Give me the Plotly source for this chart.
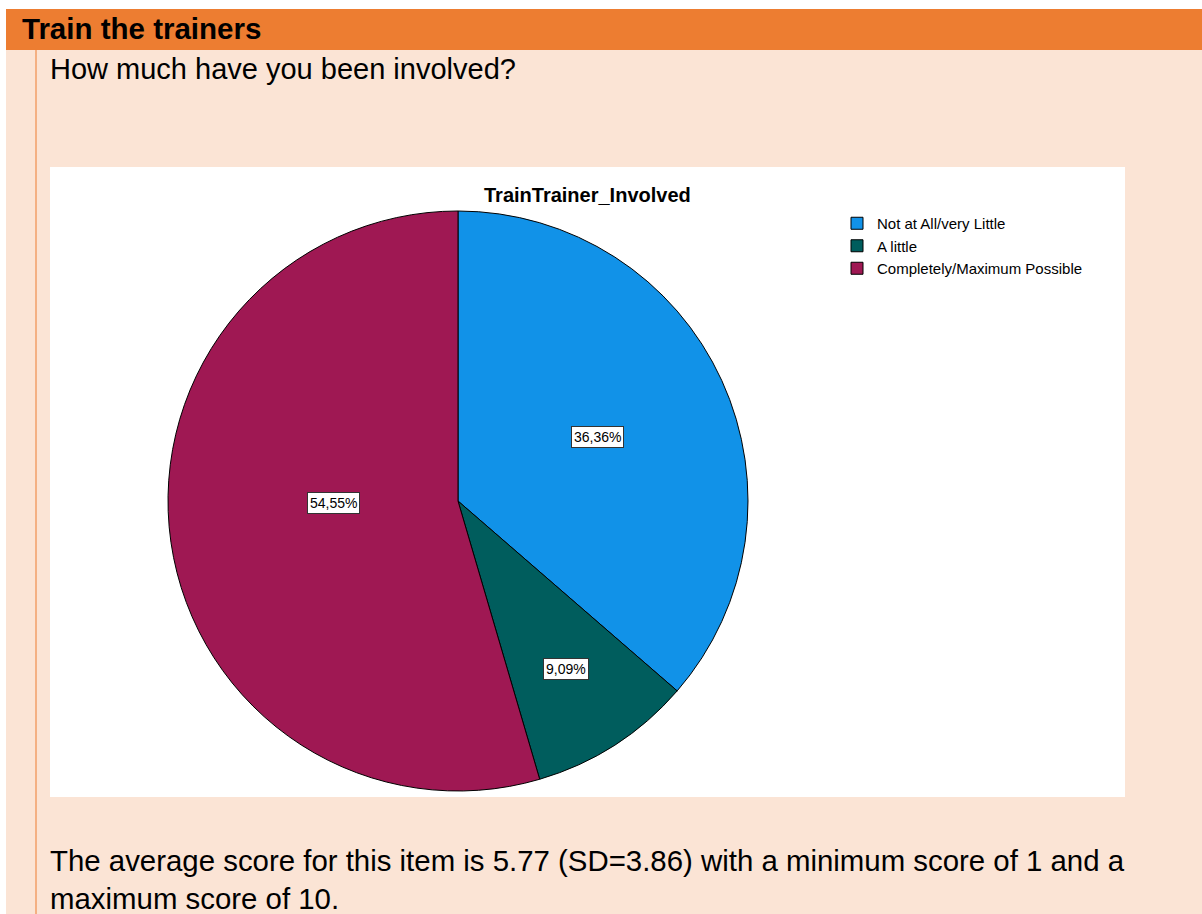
import plotly.graph_objects as go
import math

# ---------------- data ----------------
categories = ["Not at All/very Little", "A little", "Completely/Maximum Possible"]
counts = [4, 1, 6]
slice_colors = ["#1192E8", "#005D5D", "#9F1853"]

header_text = "Train the trainers"
question_text = "How much have you been involved?"
chart_title = "TrainTrainer_Involved"
footer_line1 = "The average score for this item is 5.77 (SD=3.86) with a minimum score of 1 and a"
footer_line2 = "maximum score of 10."

# ---------------- geometry (pixels) ----------------
W, H = 1202, 914
PIE_CX, PIE_CY, PIE_R = 458, 501, 290
label_radius = [0.53, 0.69, 0.43]
label_angle_shift = [0.0, 0.0, 7.3]

def px(x):
    return x / W

def py(y):
    return 1 - y / H

PEACH = "#FBE4D5"
ORANGE = "#ED7D31"
LINE_ORANGE = "#F4B083"
FONT = "Liberation Sans, Arial, sans-serif"

fig = go.Figure()

fig.add_trace(go.Pie(
    labels=categories,
    values=counts,
    sort=False,
    direction="clockwise",
    rotation=0,
    marker=dict(colors=slice_colors, line=dict(color="#000000", width=1)),
    textinfo="none",
    hoverinfo="label+percent",
    domain=dict(x=[px(PIE_CX - PIE_R), px(PIE_CX + PIE_R)],
                y=[py(PIE_CY + PIE_R), py(PIE_CY - PIE_R)]),
    showlegend=True,
))

# percentage labels computed from the data
total = sum(counts)
cum = 0
annotations = []
for i, v in enumerate(counts):
    frac = v / total
    mid = (cum + frac / 2) * 360 + label_angle_shift[i]
    cum += frac
    d = label_radius[i] * PIE_R
    lx = PIE_CX + math.sin(math.radians(mid)) * d
    ly = PIE_CY - math.cos(math.radians(mid)) * d
    txt = f"{frac * 100:.2f}".replace(".", ",") + "%"
    annotations.append(dict(
        x=px(lx), y=py(ly), xref="paper", yref="paper",
        text=txt, showarrow=False, xanchor="center", yanchor="middle",
        font=dict(family=FONT, size=14, color="#000000"),
        bgcolor="#FFFFFF", bordercolor="#333333", borderwidth=1, borderpad=2,
    ))

annotations += [
    dict(x=px(20), y=py(29), xref="paper", yref="paper", text=f"<b>{header_text}</b>",
         showarrow=False, xanchor="left", yanchor="middle",
         font=dict(family=FONT, size=29.5, color="#000000")),
    dict(x=px(48), y=py(69), xref="paper", yref="paper", text=question_text,
         showarrow=False, xanchor="left", yanchor="middle",
         font=dict(family=FONT, size=29, color="#000000")),
    dict(x=px(587.5), y=py(195), xref="paper", yref="paper", text=f"<b>{chart_title}</b>",
         showarrow=False, xanchor="center", yanchor="middle",
         font=dict(family=FONT, size=20, color="#000000")),
    dict(x=px(48), y=py(860), xref="paper", yref="paper", text=footer_line1,
         showarrow=False, xanchor="left", yanchor="middle",
         font=dict(family=FONT, size=29.4, color="#000000")),
    dict(x=px(48), y=py(898), xref="paper", yref="paper", text=footer_line2,
         showarrow=False, xanchor="left", yanchor="middle",
         font=dict(family=FONT, size=29.4, color="#000000")),
]

shapes = [
    # white margins at top and left
    dict(type="rect", xref="paper", yref="paper", x0=0, x1=1, y0=py(9), y1=1,
         fillcolor="#FFFFFF", line=dict(width=0), layer="below"),
    dict(type="rect", xref="paper", yref="paper", x0=0, x1=px(6), y0=0, y1=1,
         fillcolor="#FFFFFF", line=dict(width=0), layer="below"),
    # orange header bar
    dict(type="rect", xref="paper", yref="paper", x0=px(6), x1=1, y0=py(50), y1=py(9),
         fillcolor=ORANGE, line=dict(width=0), layer="below"),
    # vertical table line
    dict(type="line", xref="paper", yref="paper", x0=px(36), x1=px(36), y0=0, y1=py(50),
         line=dict(color=LINE_ORANGE, width=2), layer="below"),
    # white chart area
    dict(type="rect", xref="paper", yref="paper", x0=px(50), x1=px(1125), y0=py(797), y1=py(167),
         fillcolor="#FFFFFF", line=dict(width=0), layer="below"),
]

fig.update_layout(
    width=W, height=H,
    margin=dict(l=0, r=0, t=0, b=0),
    paper_bgcolor=PEACH,
    plot_bgcolor=PEACH,
    shapes=shapes,
    annotations=annotations,
    legend=dict(
        x=px(837), y=py(207), xanchor="left", yanchor="top",
        font=dict(family=FONT, size=15, color="#000000"),
        bgcolor="rgba(0,0,0,0)", borderwidth=0,
        tracegroupgap=0, itemclick=False, itemdoubleclick=False,
    ),
)

fig.write_html(
    "out.html",
    config={"displayModeBar": False},
    post_script="document.body.style.margin='0';document.body.style.padding='0';",
)
